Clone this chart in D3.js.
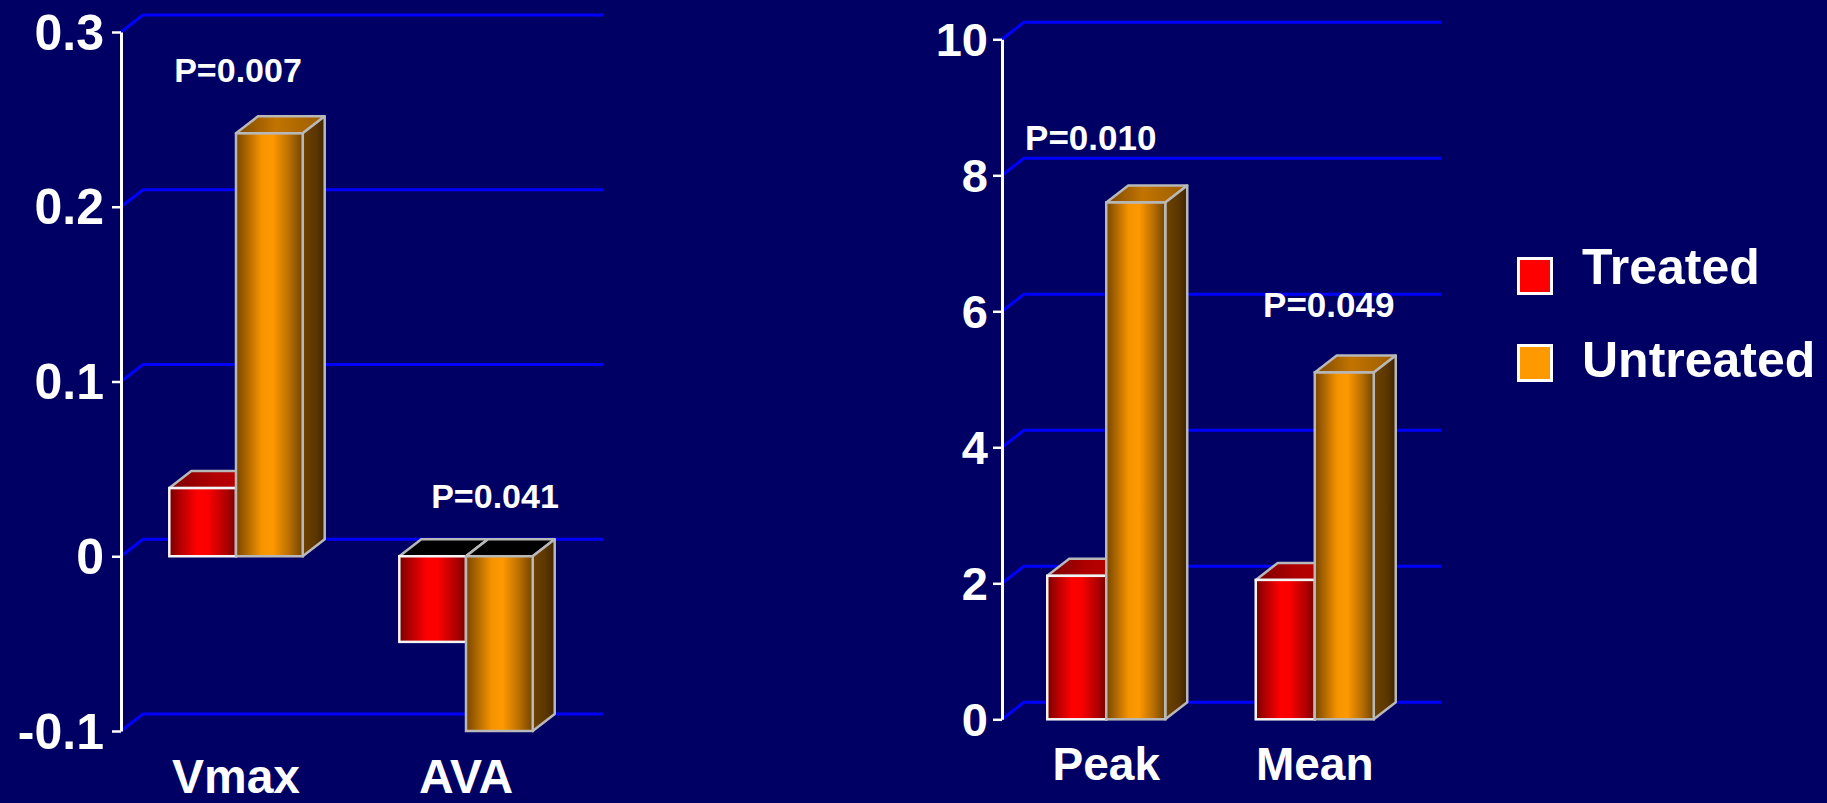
<!DOCTYPE html>
<html>
<head>
<meta charset="utf-8">
<script src="https://cdn.jsdelivr.net/npm/d3@7"></script>
<style>
  html, body { margin: 0; padding: 0; background: #000064; overflow: hidden; }
  svg { display: block; }
  text { font-family: "Liberation Sans", Arial, Helvetica, sans-serif; font-weight: bold; fill: #ffffff; }
</style>
</head>
<body>
<svg id="chart" width="1827" height="803"></svg>
<script>
// Series shared by both panels
const seriesNames = ["Treated", "Untreated"];
const seriesColors = ["#ff0000", "#ff9900"];

// Left panel: change in Vmax and AVA
const velocityCategories = ["Vmax", "AVA"];
const velocityTreated = [0.039, -0.049];
const velocityUntreated = [0.242, -0.1];
const velocityTicks = [-0.1, 0, 0.1, 0.2, 0.3];
const velocityTickLabels = ["-0.1", "0", "0.1", "0.2", "0.3"];
const velocityPValues = ["P=0.007", "P=0.041"];

// Right panel: change in peak and mean gradient
const gradientCategories = ["Peak", "Mean"];
const gradientTreated = [2.11, 2.05];
const gradientUntreated = [7.6, 5.1];
const gradientTicks = [0, 2, 4, 6, 8, 10];
const gradientTickLabels = ["0", "2", "4", "6", "8", "10"];
const gradientPValues = ["P=0.010", "P=0.049"];

const svg = d3.select("#chart");
svg.append("rect").attr("width", 1827).attr("height", 803).attr("fill", "#000064");

// Depth of the pseudo-3D extrusion
const DX = 22, DY = -17;

// Gradients for the bar faces
const defs = svg.append("defs");
function hGrad(id, stops) {
  const g = defs.append("linearGradient").attr("id", id)
    .attr("x1", "0%").attr("x2", "100%").attr("y1", "0%").attr("y2", "0%");
  stops.forEach(([o, c]) => g.append("stop").attr("offset", o).attr("stop-color", c));
}
hGrad("front0", [[0, "#780000"], [0.18, "#b80000"], [0.42, "#ff0000"], [0.58, "#fa0000"], [0.85, "#b00000"], [1, "#7a0000"]]);
hGrad("front1", [[0, "#784600"], [0.15, "#a86400"], [0.38, "#f59300"], [0.55, "#ff9900"], [0.8, "#b86e00"], [1, "#724400"]]);
hGrad("top0",   [[0, "#7a0000"], [0.5, "#b00000"], [1, "#c00000"]]);
hGrad("top1",   [[0, "#7a4800"], [0.45, "#c27400"], [1, "#9a5c00"]]);
hGrad("side0",  [[0, "#800000"], [1, "#500000"]]);
hGrad("side1",  [[0, "#6e4200"], [0.6, "#5c3600"], [1, "#3e2400"]]);

const borderColors = ["#f4f4f4", "#b8b8b8"];

function drawPanel(cfg) {
  const g = svg.append("g");
  const y = d3.scaleLinear().domain(cfg.yDomain).range(cfg.yRange);
  const x = d3.scaleBand().domain(cfg.categories).range(cfg.xRange);
  const groupW = x.bandwidth() * cfg.groupFrac;
  const x1 = d3.scaleBand().domain(seriesNames).range([0, groupW]);
  const axisX = cfg.xRange[0];
  const endX = cfg.xRange[1];

  // Back-wall grid lines, bent at the axis to show depth
  g.append("g").selectAll("path").data(cfg.ticks).join("path")
    .attr("d", t => `M${axisX},${y(t)} L${axisX + DX},${y(t) + DY} L${endX + DX},${y(t) + DY}`)
    .attr("fill", "none").attr("stroke", "#0000ff").attr("stroke-width", 3);

  // Value axis
  const axis = d3.axisLeft(y).tickValues(cfg.ticks)
    .tickFormat((d, i) => cfg.tickLabels[i])
    .tickSize(9).tickSizeOuter(0).tickPadding(cfg.tickPadding);
  const ag = g.append("g").attr("transform", `translate(${axisX},0)`).call(axis);
  ag.select(".domain").attr("stroke", "#ffffff").attr("stroke-width", 3);
  ag.selectAll(".tick line").attr("stroke", "#ffffff").attr("stroke-width", 2.5);
  ag.selectAll(".tick text").attr("fill", "#ffffff").attr("font-size", cfg.tickFont)
    .attr("font-family", "Liberation Sans, Arial, sans-serif").attr("font-weight", "bold")
    .attr("dy", "0.34em");

  // Bars: treated first, untreated drawn over its side
  const rows = cfg.categories.map((c, i) => ({ c, vals: [cfg.treated[i], cfg.untreated[i]] }));
  rows.forEach(row => {
    row.vals.forEach((v, s) => {
      const x0 = x(row.c) + (x.bandwidth() - groupW) / 2 + x1(seriesNames[s]);
      const w = x1.bandwidth();
      const yT = y(Math.max(v, 0));
      const yB = y(Math.min(v, 0));
      const bg = g.append("g");
      // top face
      bg.append("path")
        .attr("d", `M${x0},${yT} L${x0 + DX},${yT + DY} L${x0 + w + DX},${yT + DY} L${x0 + w},${yT} Z`)
        .attr("fill", v >= 0 ? `url(#top${s})` : "#000000")
        .attr("stroke", borderColors[1]).attr("stroke-width", 2.5).attr("stroke-linejoin", "round");
      // side face
      bg.append("path")
        .attr("d", `M${x0 + w},${yT} L${x0 + w + DX},${yT + DY} L${x0 + w + DX},${yB + DY} L${x0 + w},${yB} Z`)
        .attr("fill", `url(#side${s})`)
        .attr("stroke", borderColors[1]).attr("stroke-width", 2.5).attr("stroke-linejoin", "round");
      // front face
      bg.append("rect")
        .attr("x", x0).attr("y", yT).attr("width", w).attr("height", yB - yT)
        .attr("fill", `url(#front${s})`)
        .attr("stroke", borderColors[s]).attr("stroke-width", 2.5);
    });
  });

  // Category labels
  g.append("g").selectAll("text").data(cfg.categories).join("text")
    .attr("x", d => x(d) + x.bandwidth() / 2)
    .attr("y", cfg.catBaseline)
    .attr("text-anchor", "middle")
    .attr("font-size", cfg.catFont)
    .text(d => d);

  // Significance labels
  g.append("g").selectAll("text").data(cfg.pValues).join("text")
    .attr("x", (d, i) => x(cfg.categories[i]) + x.bandwidth() / 2 + cfg.pAnchors[i].dx)
    .attr("y", (d, i) => y(cfg.pAnchors[i].v))
    .attr("text-anchor", "middle")
    .attr("font-size", cfg.pFont)
    .attr("fill", "#f2f2f2")
    .text(d => d);
}

drawPanel({
  categories: velocityCategories,
  treated: velocityTreated,
  untreated: velocityUntreated,
  ticks: velocityTicks,
  tickLabels: velocityTickLabels,
  pValues: velocityPValues,
  yDomain: [-0.1, 0.3], yRange: [731, 32],
  xRange: [121, 581], groupFrac: 0.58,
  tickFont: 50, tickPadding: 8,
  catFont: 48, catBaseline: 793,
  pFont: 34, pAnchors: [{ dx: 2, v: 0.2714 }, { dx: 29, v: 0.0276 }]
});

drawPanel({
  categories: gradientCategories,
  treated: gradientTreated,
  untreated: gradientUntreated,
  ticks: gradientTicks,
  tickLabels: gradientTickLabels,
  pValues: gradientPValues,
  yDomain: [0, 10], yRange: [719.3, 39.3],
  xRange: [1002, 1419], groupFrac: 0.566,
  tickFont: 47, tickPadding: 5,
  catFont: 46, catBaseline: 780,
  pFont: 35, pAnchors: [{ dx: -15.5, v: 8.37 }, { dx: 14, v: 5.92 }]
});

// Legend
const legend = svg.append("g").selectAll("g").data(seriesNames).join("g");
legend.append("rect")
  .attr("x", 1518.5).attr("y", (d, i) => 258.5 + i * 87)
  .attr("width", 33).attr("height", 35)
  .attr("fill", (d, i) => seriesColors[i])
  .attr("stroke", "#ffffff").attr("stroke-width", 3);
legend.append("text")
  .attr("x", 1582).attr("y", (d, i) => 284 + i * 93)
  .attr("font-size", 50)
  .text(d => d);
</script>
</body>
</html>
